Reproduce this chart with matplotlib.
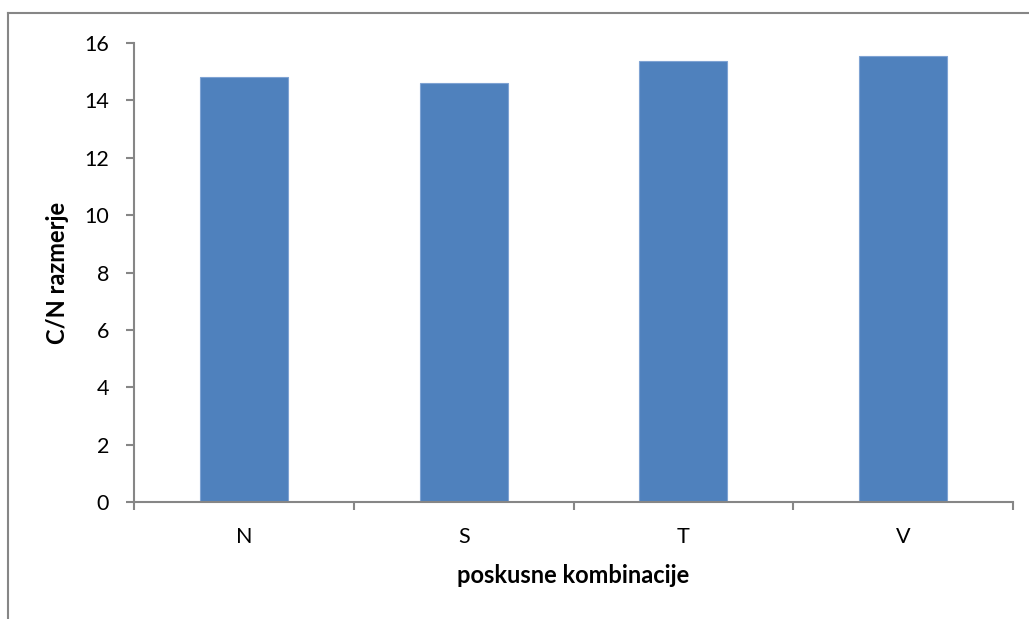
import matplotlib
matplotlib.use("Agg")
import matplotlib.pyplot as plt
from matplotlib.lines import Line2D
import numpy as np

categories = ["N", "S", "T", "V"]
cn_ratio = [14.8, 14.6, 15.35, 15.55]
y_ticks = [0, 2, 4, 6, 8, 10, 12, 14, 16]

AXIS_GRAY = "#868686"
BAR_BLUE = "#4F81BD"

plt.rcParams["font.family"] = ["Lato", "DejaVu Sans"]

fig = plt.figure(figsize=(10.29, 6.19), dpi=100)
ax = fig.add_axes([0.1302, 0.1885, 0.8543, 0.7425])

x = np.arange(len(categories))
ax.bar(x, cn_ratio, width=0.4, color=BAR_BLUE, edgecolor="#7FA3D3", linewidth=0.8, zorder=2)

ax.set_xlim(-0.5, len(categories) - 0.5)
ax.set_ylim(0, 16)
ax.set_yticks(y_ticks)

# category labels in the middle, tick marks on the boundaries
ax.set_xticks(x)
ax.set_xticklabels(categories)
ax.set_xticks(np.arange(len(categories) + 1) - 0.5, minor=True)
ax.tick_params(axis="x", which="major", length=0, pad=18, labelsize=15.5)
ax.tick_params(axis="x", which="minor", length=6, width=1.5, color=AXIS_GRAY, direction="out")
ax.tick_params(axis="y", length=6, width=1.5, color=AXIS_GRAY, direction="out", pad=12, labelsize=15.5)

for side in ["top", "right"]:
    ax.spines[side].set_visible(False)
for side in ["left", "bottom"]:
    ax.spines[side].set_color(AXIS_GRAY)
    ax.spines[side].set_linewidth(1.5)

ax.set_ylabel("C/N razmerje", fontsize=17, fontweight="bold", labelpad=11)
ax.set_xlabel("poskusne kombinacije", fontsize=17, fontweight="bold", labelpad=12)

# chart area frame, only top and left edges fall inside the canvas
fig.add_artist(Line2D([8 / 1029, 8 / 1029], [-0.1, 1 - 13 / 619], color=AXIS_GRAY, lw=1.5,
                      transform=fig.transFigure))
fig.add_artist(Line2D([8 / 1029, 1.1], [1 - 13 / 619, 1 - 13 / 619], color=AXIS_GRAY, lw=1.5,
                      transform=fig.transFigure))

fig.savefig("out.png", dpi=100)
